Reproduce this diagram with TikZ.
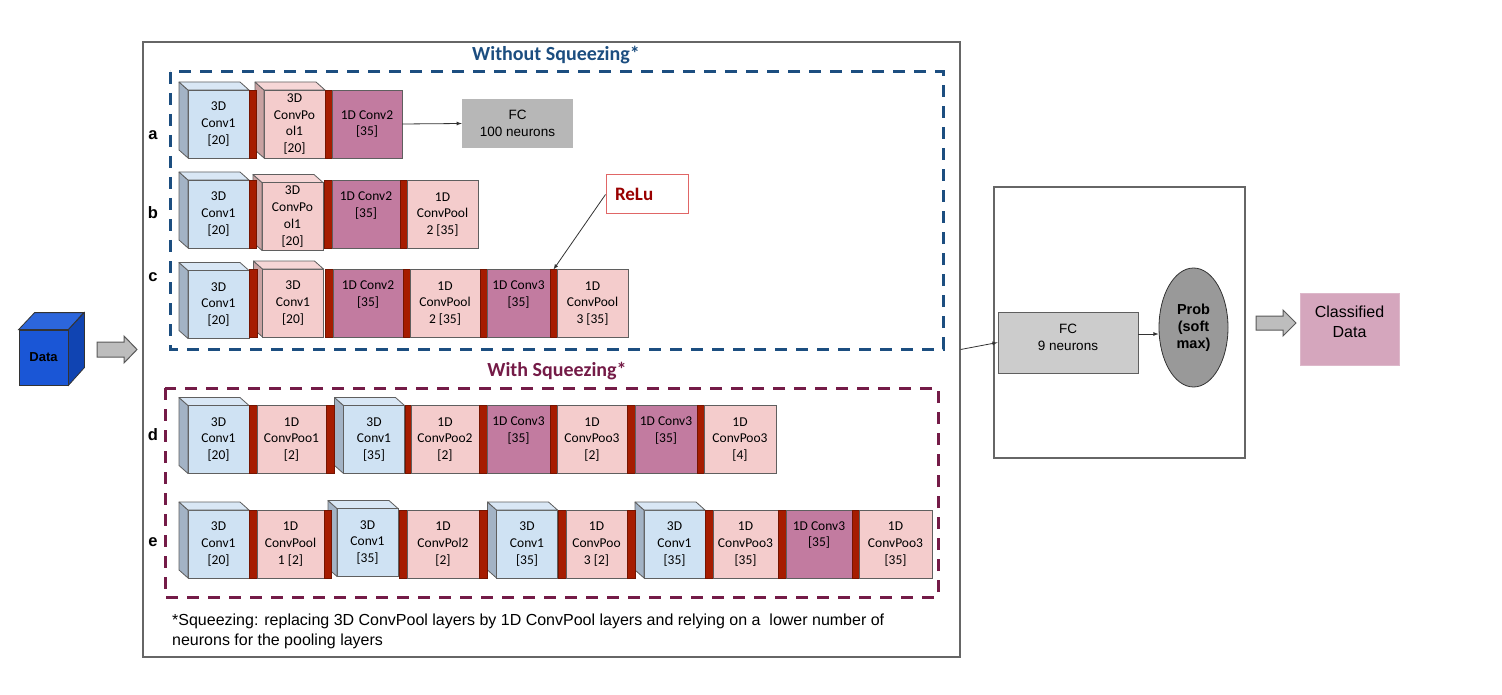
\documentclass[tikz,border=0pt]{standalone}
\usepackage{fontspec}
\setmainfont{Carlito}
\newfontfamily\arialfont{Liberation Sans}
\usetikzlibrary{shapes.geometric}

\definecolor{bluefront}{HTML}{CFE2F3}
\definecolor{blueside}{HTML}{A3B3C5}
\definecolor{bluetop}{HTML}{D9E7F5}
\definecolor{pinkfront}{HTML}{F4CCCC}
\definecolor{pinkside}{HTML}{C9A2A2}
\definecolor{pinktop}{HTML}{F6D6D6}
\definecolor{mauve}{HTML}{C27BA0}
\definecolor{barred}{HTML}{A61C00}
\definecolor{nosqz}{HTML}{1C4E80}
\definecolor{sqz}{HTML}{741B47}
\definecolor{fcgray}{HTML}{B7B7B7}
\definecolor{fclight}{HTML}{CCCCCC}
\definecolor{probgray}{HTML}{999999}
\definecolor{classpink}{HTML}{D5A6BD}
\definecolor{relured}{HTML}{990000}
\definecolor{reluedge}{HTML}{E06666}
\definecolor{datafront}{HTML}{1A56D6}
\definecolor{dataside}{HTML}{1044B2}
\definecolor{datatop}{HTML}{2C66DC}
\definecolor{edgegray}{HTML}{5F5F5F}
\definecolor{arrowgray}{HTML}{BDBDBD}

\newcommand{\layerfont}{\fontsize{13.5}{16.7}\selectfont}
\newcommand{\fcfont}{\arialfont\fontsize{13.5}{16.5}\selectfont}

\begin{document}
\begin{tikzpicture}[
                    x = 1pt, y = -1pt,
                    > = latex,
        netlayer/.style = {rectangle, draw=edgegray, line width=0.8pt, minimum height=68pt,
                           inner sep=1pt, outer sep=0pt, align=center, font=\layerfont},
            pool/.style = {netlayer, fill=pinkfront},
            conv/.style = {netlayer, fill=mauve},
         convtop/.style = {conv, text depth=20pt},
         relubar/.style = {rectangle, fill=barred, draw=barred!70!black, line width=0.6pt,
                           minimum height=68pt, inner sep=0pt, outer sep=0pt},
            face/.style = {draw=edgegray, line width=0.8pt, line join=round},
              fc/.style = {rectangle, align=center, font=\fcfont, inner sep=0pt},
      blockarrow/.style = {fill=arrowgray, draw=black!65, line width=1pt},
            conn/.style = {->, draw=black!80, line width=0.8pt},
         rowname/.style = {font=\arialfont\bfseries\fontsize{16.5}{16.5}\selectfont},
         heading/.style = {font=\bfseries\fontsize{20}{24}\selectfont},
      groupframe/.style = {dash pattern=on 12pt off 9pt, line width=3pt},
             box/.style = {rectangle, draw=black!60, line width=1.2pt, inner sep=0pt},
                    ]

    \useasboundingbox (0,0) rectangle (1502,695);

    % input
    \node[rectangle, fill=datafront, draw=black!80, line width=0.8pt, minimum width=49pt,
          minimum height=55pt, font=\arialfont\bfseries\fontsize{13}{13}\selectfont] (data) at (43.5,357.5) {Data};
    \draw[fill=datatop, draw=black!80, line width=0.8pt] (data.north west) -- ++(16,-17) -- ++(49,0) -- (data.north east) -- cycle;
    \draw[fill=dataside, draw=black!80, line width=0.8pt] (data.north east) -- ++(16,-17) -- ++(0,55) -- (data.south east) -- cycle;
    \draw[blockarrow] (97,342) -- (124,342) -- (124,336) -- (137,349.5) -- (124,363) -- (124,357) -- (97,357) -- cycle;

    \node[box, minimum width=817pt, minimum height=615pt] (mainbox) at (551.5,349.5) {};

    \draw[groupframe, nosqz] (170,72) rectangle (943,349);
    \draw[groupframe, sqz] (165,388) rectangle (938,597);
    \node[heading, text=nosqz] (nosqztitle) at (556,55) {Without Squeezing*};
    \node[heading, text=sqz] (sqztitle) at (557,371) {With Squeezing*};

    \foreach \row/\y in {a/135, b/213, c/277, d/435, e/542}
        \node[rowname] (lbl\row) at (153,\y) {\row};

    % 3D layers
    \foreach \name/\x/\y/\col/\txt in {a1/218.5/124/blue/{3D\\Conv1\\{[20]}},
                                        a3/294.5/124/pink/{3D\\ConvPo\\ol1\\{[20]}},
                                        b1/218.5/214/blue/{3D\\Conv1\\{[20]}},
                                        b3/292.5/216.5/pink/{3D\\ConvPo\\ol1\\{[20]}},
                                        c1/218.5/304.5/blue/{3D\\Conv1\\{[20]}},
                                        c3/293/303/pink/{3D\\Conv1\\{[20]}},
                                        d1/218.5/439.5/blue/{3D\\Conv1\\{[20]}},
                                        d5/374/439.5/blue/{3D\\Conv1\\{[35]}},
                                        e1/218.5/544/blue/{3D\\Conv1\\{[20]}},
                                        e5/367.5/542.5/blue/{3D\\Conv1\\{[35]}},
                                        e9/527/544/blue/{3D\\Conv1\\{[35]}},
                                        e13/674.5/544/blue/{3D\\Conv1\\{[35]}}}{%
        \node[netlayer, fill=\col front, minimum width=61pt] (\name) at (\x,\y) {\txt};
        \draw[face, fill=\col side] (\name.north west) -- ++(-9,-8) -- ++(0,68) -- (\name.south west) -- cycle;
        \draw[face, fill=\col top] (\name.north west) -- ++(-9,-8) -- ++(61,0) -- (\name.north east) -- cycle;
    }

    % row a
    \foreach \name/\xl/\xr/\kind/\txt in {a2/249/256/relubar/{}, a4/325/332/relubar/{},
                                          a5/332/402/conv/{1D Conv2\\{[35]}}}
        \node[\kind, minimum width={\xr-\xl}] (\name) at ({(\xl+\xr)/2},124) {\txt};
    % row b
    \foreach \name/\xl/\xr/\kind/\txt in {b2/249/256/relubar/{}, b4/324/332/relubar/{},
                                          b5/332/400/convtop/{1D Conv2\\{[35]}}, b6/400/407/relubar/{},
                                          b7/407/478/pool/{1D\\ConvPool\\2 {[35]}}}
        \node[\kind, minimum width={\xr-\xl}] (\name) at ({(\xl+\xr)/2},214.5) {\txt};
    % row c
    \foreach \name/\xl/\xr/\kind/\txt in {c2/249/257/relubar/{}, c4/325/333/relubar/{},
                                          c5/333/403/convtop/{1D Conv2\\{[35]}}, c6/403/410/relubar/{},
                                          c7/410/480/pool/{1D\\ConvPool\\2 {[35]}}, c8/480/487/relubar/{},
                                          c9/487/550/convtop/{1D Conv3\\{[35]}}, c10/550/557/relubar/{},
                                          c11/557/628/pool/{1D\\ConvPool\\3 {[35]}}}
        \node[\kind, minimum width={\xr-\xl}] (\name) at ({(\xl+\xr)/2},303.5) {\txt};
    % row d
    \foreach \name/\xl/\xr/\kind/\txt in {d2/249/257/relubar/{}, d3/257/326/pool/{1D\\ConvPoo1\\{[2]}},
                                          d4/326/334/relubar/{}, d6/405/411/relubar/{},
                                          d7/411/479/pool/{1D\\ConvPoo2\\{[2]}}, d8/479/487/relubar/{},
                                          d9/487/550/convtop/{1D Conv3\\{[35]}}, d10/550/557/relubar/{},
                                          d11/557/627/pool/{1D\\ConvPoo3\\{[2]}}, d12/627/635/relubar/{},
                                          d13/635/697/convtop/{1D Conv3\\{[35]}}, d14/697/704/relubar/{},
                                          d15/704/776/pool/{1D\\ConvPoo3\\{[4]}}}
        \node[\kind, minimum width={\xr-\xl}] (\name) at ({(\xl+\xr)/2},439.5) {\txt};
    % row e
    \foreach \name/\xl/\xr/\kind/\txt in {e2/249/257/relubar/{}, e3/257/324/pool/{1D\\ConvPool\\1 {[2]}},
                                          e4/324/331/relubar/{}, e6/399/407/relubar/{},
                                          e7/407/479/pool/{1D\\ConvPol2\\{[2]}}, e8/479/487/relubar/{},
                                          e10/558/566/relubar/{}, e11/566/627/pool/{1D\\ConvPoo\\3 {[2]}},
                                          e12/627/635/relubar/{}, e14/705/713/relubar/{},
                                          e15/713/778/pool/{1D\\ConvPoo3\\{[35]}}, e16/778/786/relubar/{},
                                          e17/786/852/convtop/{1D Conv3\\{[35]}}, e18/852/859/relubar/{},
                                          e19/859/932/pool/{1D\\ConvPoo3\\{[35]}}}
        \node[\kind, minimum width={\xr-\xl}] (\name) at ({(\xl+\xr)/2},544) {\txt};

    \node[fc, fill=fcgray, minimum width=111pt, minimum height=49pt] (fc100) at (517.5,123.5) {FC\\100 neurons};
    \draw[conn] (a5.east) -- (fc100.west);

    \node[draw=reluedge, line width=1pt, text=relured, font=\bfseries\fontsize{19}{19}\selectfont,
          text width=64pt, inner xsep=9pt, minimum height=39pt, align=left] (relu) at (647,194.5) {ReLu};
    \draw[conn] (relu.west) -- (c10.north);

    \node[anchor=north west, align=left, inner sep=0pt, font=\arialfont\fontsize{16}{20}\selectfont] (note) at (172,614)
        {*Squeezing: replacing 3D ConvPool layers by 1D ConvPool layers and relying on a \ lower number of\\neurons for the pooling layers};

    % output
    \node[box, minimum width=251pt, minimum height=271pt] (outbox) at (1119.5,322.5) {};
    \node[fc, fill=fclight, draw=edgegray, line width=0.8pt, minimum width=140pt, minimum height=61pt,
          text depth=10pt] (fc9) at (1068,342.5) {FC\\9 neurons};
    \node[ellipse, fill=probgray, draw=black!80, line width=0.8pt, minimum width=69pt, minimum height=119pt,
          inner sep=0pt, align=center, font=\arialfont\bfseries\fontsize{14.5}{17}\selectfont] (prob) at (1193.5,327.5) {Prob\\(soft\\max)};
    \draw[conn] (mainbox.east) -- (fc9.west);
    \draw[conn] ([yshift=8.5pt]fc9.east) -- ([yshift=-6.5pt]prob.west);
    \draw[blockarrow] (1256,316) -- (1283,316) -- (1283,310) -- (1296,323) -- (1283,336) -- (1283,330) -- (1256,330) -- cycle;
    \node[fc, fill=classpink, draw=classpink!80!white, line width=1pt, minimum width=99pt, minimum height=72pt,
          font=\arialfont\fontsize{16}{20}\selectfont, text depth=14pt] (classified) at (1349.5,329) {Classified\\Data};
\end{tikzpicture}
\end{document}
